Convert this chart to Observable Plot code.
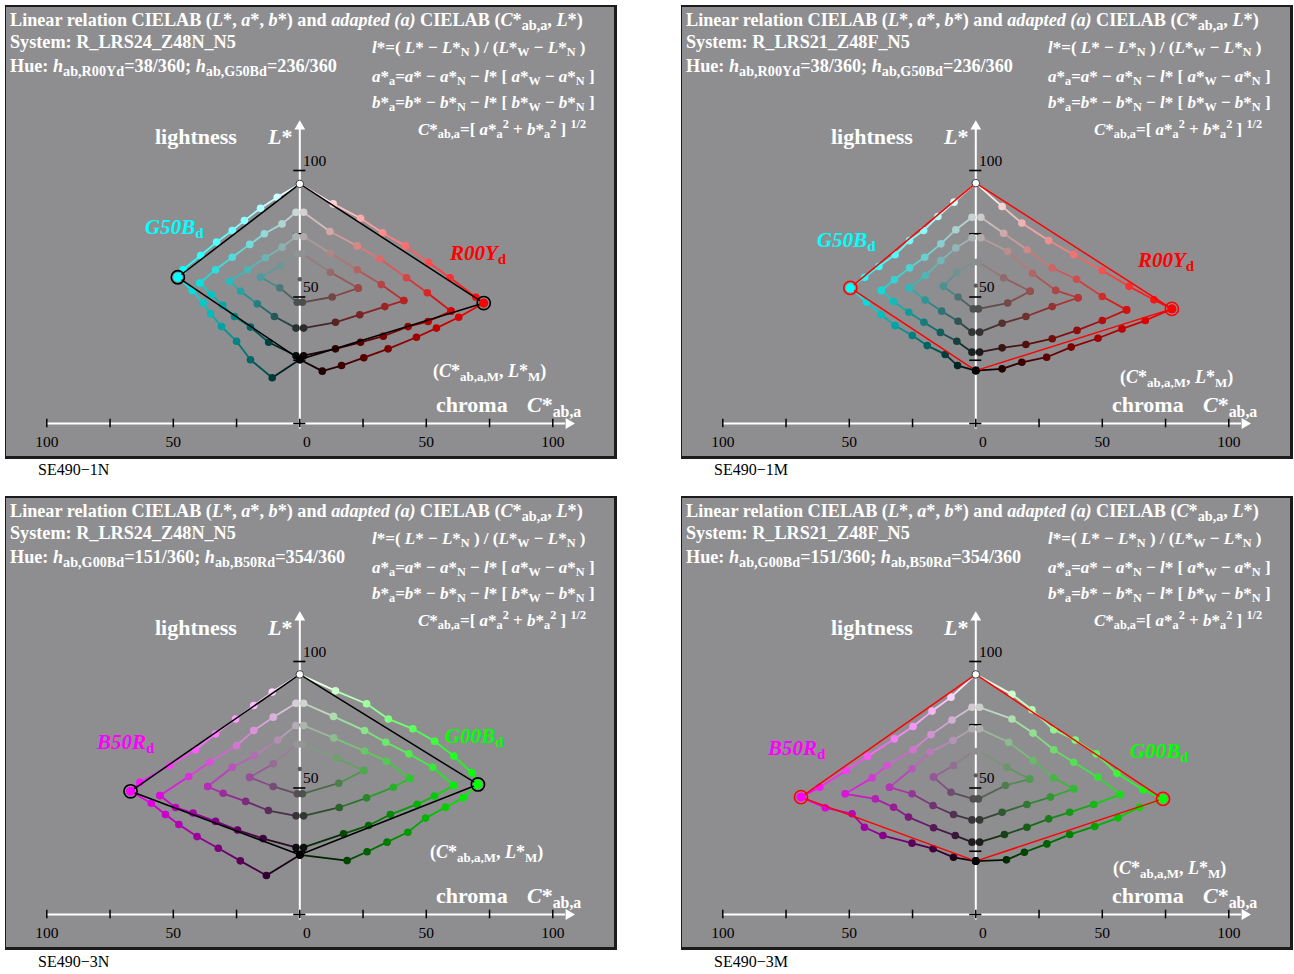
<!DOCTYPE html>
<html><head><meta charset="utf-8">
<script src="https://cdn.jsdelivr.net/npm/d3@7"></script>
<script src="https://cdn.jsdelivr.net/npm/@observablehq/plot@0.6"></script>
<style>
body{margin:0;background:#fff;}
#page{position:relative;width:1294px;height:974px;font-family:"Liberation Serif","Times New Roman",serif;}
.panel{position:absolute;width:608px;height:449px;background:#8e8e91;border-style:solid;border-color:#1c1c1c;border-width:2px 3px 3px 1px;overflow:hidden;}
.panel svg{position:absolute;left:0;top:0;}
.t{position:absolute;white-space:nowrap;line-height:1;transform:translateY(-50%);color:#fff;font-weight:bold;}
.t sub{font-size:0.72em;vertical-align:-0.32em;line-height:0;}
.t sup{font-size:0.72em;vertical-align:0.5em;line-height:0;}
.title{font-size:18.2px;}
.title sub{font-size:0.78em;}
.form{font-size:17px;}
.mlab{font-size:18px;}
.big{font-size:22px;}
.hue{font-size:21px;}
.hue i{font-style:italic;}
.cap{position:absolute;font-size:16px;color:#000;transform:translateY(-50%);white-space:nowrap;font-family:"Liberation Serif","Times New Roman",serif;}
</style>
</head><body>
<div id="page"></div>
<script>
// ---------- axis tick values ----------
const xTicks = [-100, -75, -50, -25, 0, 25, 50, 75, 100];
const xLabelValues = [-100, -50, 50, 100];
const xLabelTexts = ["100", "50", "50", "100"];
const yTicks = [0, 25, 50, 75, 100];
const yLabelValues = [100, 50];

// ---------- panel texts ----------
const codes = ["SE490\u22121N", "SE490\u22121M", "SE490\u22123N", "SE490\u22123M"];
const systems = ["R_LRS24_Z48N_N5", "R_LRS21_Z48F_N5", "R_LRS24_Z48N_N5", "R_LRS21_Z48F_N5"];
const hueNameR = ["R00Y", "R00Y", "G00B", "G00B"];
const hueNameL = ["G50B", "G50B", "B50R", "B50R"];
const hueAngleR = [38, 38, 151, 151];
const hueAngleL = [236, 236, 354, 354];
const hueColorR = ["#ff0000", "#ff0000", "#00ff00", "#00ff00"];
const hueColorL = ["#00ffff", "#00ffff", "#ff00ff", "#ff00ff"];
const frameColors = ["#000000", "#ff0000", "#000000", "#ff0000"];

// ---------- data: [C*ab,a, L*] per curve ----------
// curve order: outer upper (W->M), outer lower (M->N), ring1 upper, ring1 lower, ring2 upper, ring2 lower, ring3 upper, ring3 lower
const p1R = [
  [[0,94.7],[13.2,86.8],[24,81.1],[32.7,75.4],[41.7,70.2],[50.9,63.6],[59.4,57.6],[69.6,49.9],[72.7,47.6]],
  [[72.7,47.6],[62.8,42],[54,37.7],[46.1,34.1],[34.9,29.5],[25.3,26],[16.5,22.9],[8.9,20.7],[0,25.3]],
  [[1.5,83.5],[11.9,75.9],[22.7,70.2],[31.6,65.1],[42.2,57.6],[50.4,51.7],[59.8,44.4]],
  [[59.8,44.4],[50.7,40.3],[42.8,38.3],[33,34.5],[24,32.1],[14.1,29.5],[1.5,26.8]],
  [[1.5,73.9],[12.1,67.3],[22.7,60.8],[32.2,54.9],[41.1,48.6]],
  [[41.1,48.6],[33.6,46.2],[23.7,43],[14.1,40],[1.5,37.7]],
  [[1,67.1],[12.1,59.8],[23.1,53.5]],
  [[23.1,53.5],[12.8,50],[1,47.9]]
];
const p1L = [
  [[0,94.7],[-8.9,89.4],[-15.5,85.1],[-21.9,80.2],[-26.7,76.3],[-32.9,71.7],[-39.2,66.4],[-46.1,60.8],[-48.2,57.8]],
  [[-48.2,57.8],[-42.5,52.6],[-38.2,47.7],[-35.3,43.4],[-30.9,38.3],[-25,32.5],[-19.5,25.2],[-10.9,18.1],[0,25.3]],
  [[-1.5,83.5],[-7,78.9],[-14,75],[-19.8,70.8],[-26.7,65.7],[-33.3,60.8],[-39.5,55.5]],
  [[-39.5,55.5],[-35,51],[-30.5,46.7],[-25.8,42.3],[-19.5,38.1],[-12.3,32.1],[-1.5,26.8]],
  [[-1.5,73.9],[-7,69.7],[-13.6,65.5],[-20.6,60.8],[-27.7,56.2]],
  [[-27.7,56.2],[-23.4,52.3],[-16.8,47.3],[-10,42.3],[-1.5,37.7]],
  [[-1,67.1],[-7.6,62.4],[-15.5,57.8]],
  [[-15.5,57.8],[-7.9,53.6],[-1,47.9]]
];
const p1Mid = [0, 57];

const p2R = [
  [[0,95],[10.4,85.8],[18.2,79.2],[28.8,72.3],[38.7,66.8],[50,60.5],[60.6,54.2],[70.4,48.9],[77.5,45.3]],
  [[77.5,45.3],[67,40.7],[57.8,37.4],[48.3,33.7],[37.7,30.2],[28,26.2],[18.2,24.2],[10.4,21.6],[0,20.9]],
  [[2,81.5],[11,75.2],[20.3,68.7],[30.2,61.5],[39.8,57],[50,50.2],[59.6,44.9]],
  [[59.6,44.9],[50,40.7],[40,36.8],[30.2,33.5],[19.8,31.2],[10.4,29.9],[1.5,28.2]],
  [[2,73.4],[12.6,68.1],[22.4,59.4],[31.6,52.6],[40.4,49.7]],
  [[40.4,49.7],[30.2,46.2],[19.8,42.3],[10.4,39.6],[1.5,36.1]],
  [[1,63.8],[11,57.6],[21.5,52.3]],
  [[21.5,52.3],[12.6,47.6],[1,45.3]]
];
const p2L = [
  [[0,95],[-8.6,87.5],[-15,81.8],[-20.6,76.3],[-26.2,72.3],[-31.9,66.7],[-38.3,62.1],[-43.9,57.8],[-49.6,53.6]],
  [[-49.6,53.6],[-43.2,48],[-37.5,43.1],[-31.9,38.7],[-25.1,34.8],[-19.2,30.8],[-12.1,27.3],[-7.2,22.9],[0,20.9]],
  [[-1.5,81.5],[-7.9,76.6],[-13.8,71],[-20.2,65.7],[-26.2,61.5],[-32.2,56.8],[-37.3,52.6]],
  [[-37.3,52.6],[-32.5,48.2],[-26.5,44],[-20.5,40],[-14,36],[-7.5,32.5],[-1.5,28.2]],
  [[-1.5,73.4],[-7.9,69.4],[-13.8,64.4],[-19.9,58.5],[-26.2,53.6]],
  [[-26.2,53.6],[-20,48.8],[-13.5,44.4],[-7,40.4],[-1.5,36.1]],
  [[-1,63.8],[-7.5,59.6],[-12.8,54.2]],
  [[-12.8,54.2],[-7,50],[-1,45.3]]
];
const p2Mid = [0, 54.5];

const p3R = [
  [[0,94.9],[14.1,88.4],[26.4,83.3],[35,77.3],[44.7,73.4],[53.3,68.5],[60.9,62.6],[68.1,56],[70.4,51.4]],
  [[70.4,51.4],[64.6,46.1],[57.6,42.4],[49.7,38.1],[42.7,32.5],[34.5,28.6],[26.6,24.8],[18.7,21.3],[0,23.6]],
  [[1.5,83.5],[13.3,78.3],[25.6,72.7],[34,68.1],[43.1,63.5],[52.5,58.2],[60.9,51]],
  [[60.9,51],[53.2,46.8],[46.4,43.6],[35.8,39.5],[27.2,35.2],[17.3,31.9],[1.5,26.5]],
  [[1.5,74.7],[13.4,69.8],[25.6,64.6],[34.3,60.6],[43.6,53.8]],
  [[43.6,53.8],[37,50.3],[26.4,46.1],[15.6,42.3],[1.5,39]],
  [[1,67.3],[14.5,61.8],[25.3,56.9]],
  [[25.3,56.9],[15.4,51.9],[1,47.7]]
];
const p3L = [
  [[0,94.9],[-10.9,87.9],[-18.2,82.6],[-25.4,77.3],[-33.3,71.4],[-41.2,65.1],[-51.4,58.9],[-63.2,52.3],[-66.9,48.7]],
  [[-66.9,48.7],[-58.7,44],[-53.1,39.5],[-47.8,35.6],[-40.6,30.8],[-32.2,26.2],[-23.5,21.2],[-13.2,15.4],[0,23.5]],
  [[-1.5,83.5],[-10.5,78],[-18.2,72.7],[-25,66.8],[-35.6,60.2],[-43.9,54.5],[-55.3,47]],
  [[-55.3,47],[-49.1,42.3],[-42.2,40.1],[-33.3,36.8],[-24.6,33.4],[-14.5,30],[-1.5,26.5]],
  [[-1.5,74.7],[-8.7,69],[-17.9,62.8],[-26.7,58.2],[-36.4,50.6]],
  [[-36.4,50.6],[-30.3,47.9],[-21.4,44.7],[-12.4,41.1],[-1.5,39]],
  [[-1,67.3],[-10.5,59.6],[-19.8,54.2]],
  [[-19.8,54.2],[-10.5,50.6],[-1,47.7]]
];
const p3Mid = [0, 57.5];

const p4R = [
  [[0,94.9],[14.3,87],[22.2,80.9],[30.8,73],[39.3,69],[47.6,63.5],[55.8,55.8],[66.1,49.3],[74,45.7]],
  [[74,45.7],[64.7,42.4],[56.2,38.2],[47,34.8],[37.1,31.6],[28.1,27.9],[19.2,24.6],[12.1,21.6],[0,21.1]],
  [[1.5,81.9],[14.3,77.3],[22.6,71.7],[30.8,65.1],[38.7,60.2],[48.2,54.3],[57.1,47.4]],
  [[57.1,47.4],[46.6,43.5],[37.1,40.4],[28.8,37.8],[20.2,34.5],[11.3,31.6],[1.5,28.6]],
  [[1.5,73.4],[13,68.1],[22.6,60.9],[30.8,54],[38.7,49.7]],
  [[38.7,49.7],[29.5,46.4],[20.2,43.5],[10.4,40.4],[1.5,37.4]],
  [[1,64.5],[12.3,58.2],[21.3,53.5]],
  [[21.3,53.5],[11.7,51],[1,45.7]]
];
const p4L = [
  [[0,94.9],[-9.8,85.9],[-17.3,80.4],[-24.8,74.3],[-32.2,69.4],[-42.8,62.5],[-51.2,56.9],[-61.7,50.3],[-69.1,46.4]],
  [[-69.1,46.4],[-59.5,42.2],[-48.9,39.8],[-44,34.5],[-36.7,31.2],[-25.2,28.2],[-16.9,26],[-8.8,22.6],[0,21.1]],
  [[-1.5,81.9],[-9.4,76.9],[-17.7,71.1],[-24.8,65.1],[-35.1,58.9],[-41,54],[-51.6,47.7]],
  [[-51.6,47.7],[-39.7,45.7],[-32.5,42.4],[-26.6,38.5],[-16.7,34.3],[-8.1,31.2],[-1.5,28.6]],
  [[-1.5,73.4],[-9,68.8],[-18,64.2],[-25.2,57.6],[-34.1,50.3]],
  [[-34.1,50.3],[-25.2,47.7],[-16.9,43.1],[-8.8,39.5],[-1.5,37.4]],
  [[-1,64.5],[-8.8,58.9],[-16.7,54.3]],
  [[-16.7,54.3],[-9.8,48.3],[-1,45.7]]
];
const p4Mid = [0, 55];

// ---------- layout (pixels) ----------
const panelBoxes = [[5, 5], [681, 5], [5, 496], [681, 496]];
const captionPos = [[38, 470], [714, 470], [38, 962], [714, 962]];
const mLabelPos = [[427, 364], [438, 370], [424, 354], [431, 370]];
const hueLabelPosR = [[444, 246], [456, 253], [439, 238], [448, 253]];
const hueLabelPosL = [[139, 220], [135, 233], [91, 244], [86, 250]];
const W_PX = 608, H_PX = 449, X0_PX = 293.3, Y0_PX = 416, K = 2.53;
const xDomain = [-X0_PX / K, (W_PX - X0_PX) / K];
const yDomain = [(Y0_PX - H_PX) / K, Y0_PX / K];

const panelData = [
  {R: p1R, L: p1L, mid: p1Mid},
  {R: p2R, L: p2L, mid: p2Mid},
  {R: p3R, L: p3L, mid: p3Mid},
  {R: p4R, L: p4L, mid: p4Mid}
];

function pointColor(p, M, W, N, hue) {
  const c = Math.min(1, Math.abs(p[0]) / Math.abs(M[0]));
  let g = 0;
  if (c < 0.999) {
    const Lg = (p[1] - c * M[1]) / (1 - c);
    const rel = Math.max(0, Math.min(100, (Lg - N[1]) / (W[1] - N[1]) * 100));
    g = Math.max(0, Math.min(255, d3.rgb(d3.lab(rel, 0, 0)).r));
  }
  const h = d3.rgb(hue);
  return d3.rgb(h.r * c + g * (1 - c), h.g * c + g * (1 - c), h.b * c + g * (1 - c)).formatHex();
}

function buildPlot(curvesR, curvesL, mid, hueR, hueL, frameColor) {
  const pts = [], segs = [];
  let Wp, Np, MR, ML;
  for (const [curves, hue, side] of [[curvesR, hueR, "R"], [curvesL, hueL, "L"]]) {
    const W = curves[0][0], M = curves[0][curves[0].length - 1], N = curves[1][curves[1].length - 1];
    if (side === "R") { MR = {C: M[0], L: M[1], color: hue}; Wp = W; Np = N; } else { ML = {C: M[0], L: M[1], color: hue}; }
    for (const curve of curves) {
      const cols = curve.map(p => pointColor(p, M, W, N, hue));
      curve.forEach((p, i) => {
        pts.push({C: p[0], L: p[1], color: cols[i]});
        if (i > 0) segs.push({C1: curve[i - 1][0], L1: curve[i - 1][1], C2: p[0], L2: p[1],
          color: d3.interpolateRgb(cols[i - 1], cols[i])(0.5)});
      });
    }
  }
  const frame = [Wp, [MR.C, MR.L], Np, [ML.C, ML.L], Wp];
  return Plot.plot({
    width: W_PX, height: H_PX, margin: 0,
    x: {domain: xDomain, axis: null},
    y: {domain: yDomain, axis: null},
    color: {type: "identity"},
    style: {background: "transparent", overflow: "visible", fontFamily: "'Liberation Serif', serif"},
    marks: [
      Plot.ruleY([0], {x1: -100, x2: 105, stroke: "white", strokeWidth: 2}),
      Plot.ruleX([0], {y1: -2.2, y2: 116.3, stroke: "white", strokeWidth: 2}),
      Plot.dot([[106.3, 0]], {x: d => d[0], y: d => d[1], symbol: "triangle", rotate: 90, r: 4, fill: "white"}),
      Plot.dot([[0, 117.4]], {x: d => d[0], y: d => d[1], symbol: "triangle", r: 4, fill: "white"}),
      Plot.ruleX(xTicks, {x: d => d, y1: -1.7, y2: 1.7, stroke: "black", strokeWidth: 1.5}),
      Plot.ruleY(yTicks, {y: d => d, x1: -2.4, x2: 2.4, stroke: "black", strokeWidth: 1.6}),
      Plot.text(xLabelValues, {x: d => d, y: -7.2, text: (d, i) => xLabelTexts[i], fontSize: 15.5, fill: "black"}),
      Plot.text([0], {x: d => d, y: -7.2, text: d => String(d), dx: 7, fontSize: 15.5, fill: "black"}),
      Plot.text(yLabelValues, {x: 1.3, y: d => d + 3.8, text: d => String(d), textAnchor: "start", fontSize: 15.5, fill: "black"}),
      Plot.link(segs, {x1: "C1", y1: "L1", x2: "C2", y2: "L2", stroke: "color", strokeWidth: 1.8}),
      Plot.dot([mid], {x: d => d[0], y: d => d[1], r: 2.2, fill: "#5a5a5a"}),
      Plot.dot(pts, {x: "C", y: "L", r: 3.8, fill: "color"}),
      Plot.line(frame, {x: d => d[0], y: d => d[1], stroke: frameColor, strokeWidth: 1.5}),
      Plot.dot([Wp], {x: d => d[0], y: d => d[1], r: 3.8, fill: "white", stroke: "#222", strokeWidth: 0.9}),
      Plot.dot([Np], {x: d => d[0], y: d => d[1], r: 4, fill: "black"}),
      Plot.dot([MR, ML], {x: "C", y: "L", r: 4.6, fill: "color"}),
      Plot.dot([MR, ML], {x: "C", y: "L", r: 6.6, fill: "none", stroke: frameColor, strokeWidth: 1.6})
    ]
  });
}

const st = s => `*<sub>${s}</sub>`;
const formulas = [
  `<i>l</i>*=( <i>L</i>* \u2212 <i>L</i>${st("N")} ) / (<i>L</i>${st("W")} \u2212 <i>L</i>${st("N")} )`,
  `<i>a</i>${st("a")}=<i>a</i>* \u2212 <i>a</i>${st("N")} \u2212 <i>l</i>* [ <i>a</i>${st("W")} \u2212 <i>a</i>${st("N")} ]`,
  `<i>b</i>${st("a")}=<i>b</i>* \u2212 <i>b</i>${st("N")} \u2212 <i>l</i>* [ <i>b</i>${st("W")} \u2212 <i>b</i>${st("N")} ]`,
  `<i>C</i>*<sub>ab,a</sub>=[ <i>a</i>${st("a")}<sup>2</sup> + <i>b</i>${st("a")}<sup>2</sup> ] <sup>1/2</sup>`
];
const formulaPos = [[366, 40], [366, 69], [366, 95], [412, 122]];

const page = document.getElementById("page");
function addText(parent, html, x, y, cls, color) {
  const d = document.createElement("div");
  d.className = "t " + cls;
  d.innerHTML = html;
  d.style.left = x + "px";
  d.style.top = y + "px";
  if (color) d.style.color = color;
  parent.appendChild(d);
}

panelData.forEach((pd, i) => {
  const panel = document.createElement("div");
  panel.className = "panel";
  panel.style.left = panelBoxes[i][0] + "px";
  panel.style.top = panelBoxes[i][1] + "px";
  page.appendChild(panel);
  panel.appendChild(buildPlot(pd.R, pd.L, pd.mid, hueColorR[i], hueColorL[i], frameColors[i]));

  addText(panel, `Linear relation CIELAB (<i>L</i>*, <i>a</i>*, <i>b</i>*) and <i>adapted (a)</i> CIELAB (<i>C</i>*<sub>ab,a</sub>, <i>L</i>*)`, 4, 13, "title");
  addText(panel, `System: ${systems[i]}`, 4, 35, "title");
  addText(panel, `Hue: <i>h</i><sub>ab,${hueNameR[i]}d</sub>=${hueAngleR[i]}/360; <i>h</i><sub>ab,${hueNameL[i]}d</sub>=${hueAngleL[i]}/360`, 4, 59, "title");
  formulas.forEach((f, j) => addText(panel, f, formulaPos[j][0], formulaPos[j][1], "form"));
  addText(panel, "lightness", 149, 130, "big");
  addText(panel, "<i>L</i>*", 262, 130, "big");
  addText(panel, "chroma", 430, 398, "big");
  addText(panel, `<i>C</i>*<sub>ab,a</sub>`, 521, 398, "big");
  addText(panel, `(<i>C</i>*<sub>ab,a,M</sub>, <i>L</i>*<sub>M</sub>)`, mLabelPos[i][0], mLabelPos[i][1], "mlab");
  addText(panel, `<i>${hueNameL[i]}</i><sub>d</sub>`, hueLabelPosL[i][0], hueLabelPosL[i][1], "hue", hueColorL[i]);
  addText(panel, `<i>${hueNameR[i]}</i><sub>d</sub>`, hueLabelPosR[i][0], hueLabelPosR[i][1], "hue", hueColorR[i]);

  const cap = document.createElement("div");
  cap.className = "cap";
  cap.textContent = codes[i];
  cap.style.left = captionPos[i][0] + "px";
  cap.style.top = captionPos[i][1] + "px";
  page.appendChild(cap);
});
</script>
</body></html>
